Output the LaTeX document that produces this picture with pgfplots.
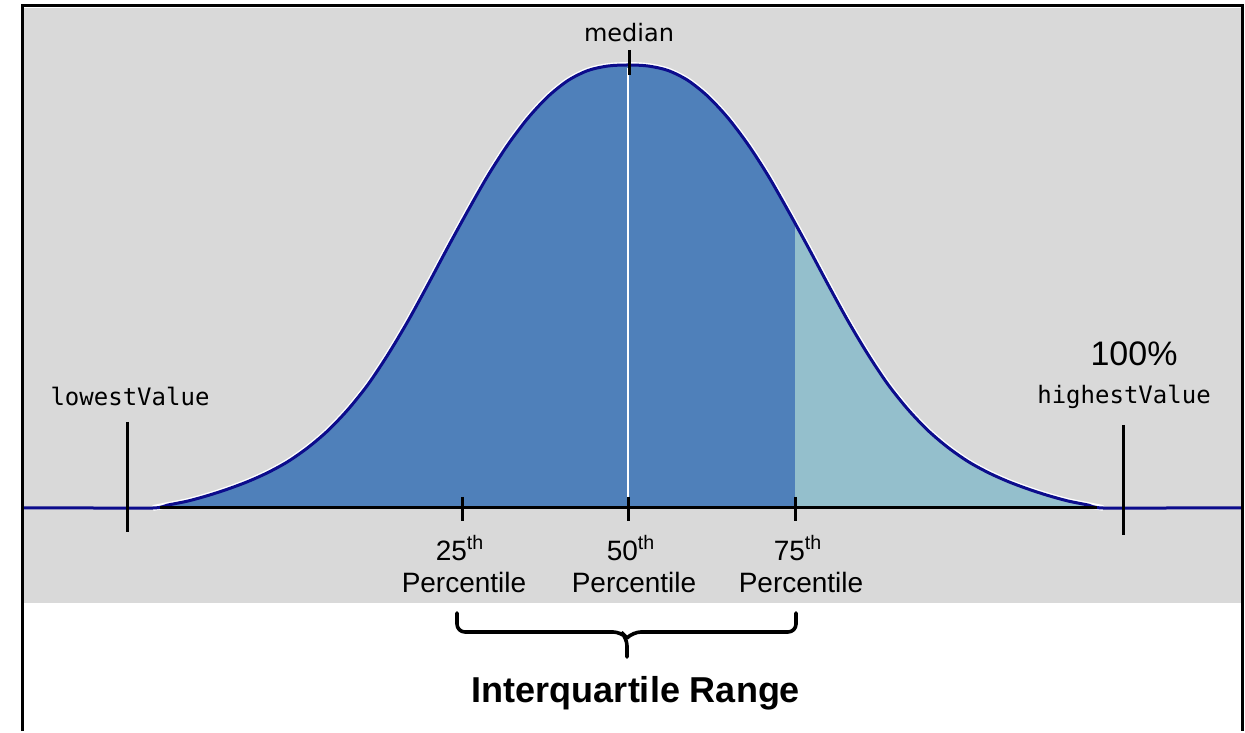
\documentclass[border=0pt]{standalone}
\usepackage{pgfplots}
\pgfplotsset{compat=1.18}
\usepackage{fontspec}
\setmainfont{Liberation Sans}
\newfontfamily\monofont{DejaVu Sans Mono}
\newfontfamily\dvsans{DejaVu Sans}
\definecolor{bggray}{HTML}{D9D9D9}
\definecolor{darkfill}{HTML}{4F80BA}
\definecolor{lightfill}{HTML}{94BFCC}
\definecolor{curveblue}{RGB}{12,12,140}
\begin{document}
\begin{tikzpicture}
\begin{axis}[scale only axis, width=622.5pt, height=365.5pt,
  xmin=0, xmax=1245, ymin=-223, ymax=508, hide axis, clip=false]
% background
\fill[white] (axis cs:0,-223) rectangle (axis cs:1245,508);
\fill[bggray] (axis cs:23,-95) rectangle (axis cs:1241,500);
% white halo of curve
\addplot[white, line width=2.9pt, smooth] coordinates {
(153,0) (168,3) (188,7) (208,12.5) (228,19) (248,26.5) (268,35.5) (288,46.5) (308,60.5) (328,77.5)
(348,98.5) (368,123.5) (388,153.5) (408,187) (428,223.5) (448,261) (468,297.5) (488,332.5)
(508,363.5) (528,390) (548,411.5) (568,427.5) (588,437.5) (608,442) (628,443)
(648,442) (668,437.5) (688,427.5) (708,411.5) (728,390) (748,363.5) (768,332.5) (788,297.5)
(808,261) (828,223.5) (848,187) (868,153.5) (888,123.5) (908,98.5) (928,77.5) (948,60.5)
(968,46.5) (988,35.5) (1008,26.5) (1028,19) (1048,12.5) (1068,7) (1088,3) (1103,0)};
% dark fill (left of 75th percentile)
\addplot[draw=none, fill=darkfill, smooth] coordinates {
(153,0) (168,3) (188,7) (208,12.5) (228,19) (248,26.5) (268,35.5) (288,46.5) (308,60.5) (328,77.5)
(348,98.5) (368,123.5) (388,153.5) (408,187) (428,223.5) (448,261) (468,297.5) (488,332.5)
(508,363.5) (528,390) (548,411.5) (568,427.5) (588,437.5) (608,442) (628,443)
(648,442) (668,437.5) (688,427.5) (708,411.5) (728,390) (748,363.5) (768,332.5) (788,297.5)
(795,284.7)} \closedcycle;
% light fill (right of 75th percentile)
\addplot[draw=none, fill=lightfill, smooth] coordinates {
(795,284.7) (808,261) (828,223.5) (848,187) (868,153.5) (888,123.5) (908,98.5) (928,77.5) (948,60.5)
(968,46.5) (988,35.5) (1008,26.5) (1028,19) (1048,12.5) (1068,7) (1088,3) (1103,0)} \closedcycle;
% median white line
\draw[white, line width=1pt] (axis cs:628,0) -- (axis cs:628,440);
% curve line
\addplot[curveblue, line width=1.5pt, smooth] coordinates {
(23,0) (90,0) (153,0) (168,3) (188,7) (208,12.5) (228,19) (248,26.5) (268,35.5) (288,46.5) (308,60.5) (328,77.5)
(348,98.5) (368,123.5) (388,153.5) (408,187) (428,223.5) (448,261) (468,297.5) (488,332.5)
(508,363.5) (528,390) (548,411.5) (568,427.5) (588,437.5) (608,442) (628,443)
(648,442) (668,437.5) (688,427.5) (708,411.5) (728,390) (748,363.5) (768,332.5) (788,297.5)
(808,261) (828,223.5) (848,187) (868,153.5) (888,123.5) (908,98.5) (928,77.5) (948,60.5)
(968,46.5) (988,35.5) (1008,26.5) (1028,19) (1048,12.5) (1068,7) (1088,3) (1103,0) (1170,0) (1241,0)};
% black baseline under fill
\draw[black, line width=1.5pt] (axis cs:160,0) -- (axis cs:1097,0);
% ticks
\draw[black, line width=1.5pt] (axis cs:127,86) -- (axis cs:127,-24);
\draw[black, line width=1.5pt] (axis cs:1123,83) -- (axis cs:1123,-27);
\draw[black, line width=1.5pt] (axis cs:462,11) -- (axis cs:462,-13);
\draw[black, line width=1.5pt] (axis cs:628,11) -- (axis cs:628,-13);
\draw[black, line width=1.5pt] (axis cs:795,11) -- (axis cs:795,-13);
\draw[black, line width=1.5pt] (axis cs:629,458) -- (axis cs:629,433);
% labels
\node[inner sep=0pt, font=\dvsans\fontsize{12}{14}\selectfont] at (axis cs:629,475) {median};
\node[inner sep=0pt, font=\monofont\fontsize{12}{14}\selectfont] at (axis cs:130,112) {lowestValue};
\node[inner sep=0pt, font=\monofont\fontsize{12}{14}\selectfont] at (axis cs:1124,111) {highestValue};
\node[inner sep=0pt, font=\fontsize{17}{20}\selectfont] at (axis cs:1134,154) {100\%};
\node[inner sep=0pt, font=\fontsize{14}{16}\selectfont] at (axis cs:460,-40) {25\textsuperscript{th}};
\node[inner sep=0pt, font=\fontsize{14}{16}\selectfont] at (axis cs:631,-40) {50\textsuperscript{th}};
\node[inner sep=0pt, font=\fontsize{14}{16}\selectfont] at (axis cs:798,-40) {75\textsuperscript{th}};
\node[inner sep=0pt, font=\fontsize{14}{16}\selectfont] at (axis cs:464,-74) {Percentile};
\node[inner sep=0pt, font=\fontsize{14}{16}\selectfont] at (axis cs:634,-74) {Percentile};
\node[inner sep=0pt, font=\fontsize{14}{16}\selectfont] at (axis cs:801,-74) {Percentile};
% brace
\draw[black, line width=1.8pt, rounded corners=4pt, line cap=round]
  (axis cs:457,-105) -- (axis cs:457,-124) -- (axis cs:621,-124) -- (axis cs:627,-130) -- (axis cs:627,-149);
\draw[black, line width=1.8pt, rounded corners=4pt, line cap=round]
  (axis cs:796,-105) -- (axis cs:796,-124) -- (axis cs:633,-124) -- (axis cs:627,-130);
\node[inner sep=0pt, font=\bfseries\fontsize{18}{21}\selectfont] at (axis cs:636,-185) {Interquartile Range};
% frame
\draw[black, line width=1.5pt] (axis cs:22,-223) -- (axis cs:22,502) -- (axis cs:1242,502) -- (axis cs:1242,-223);
\end{axis}
\end{tikzpicture}
\end{document}
